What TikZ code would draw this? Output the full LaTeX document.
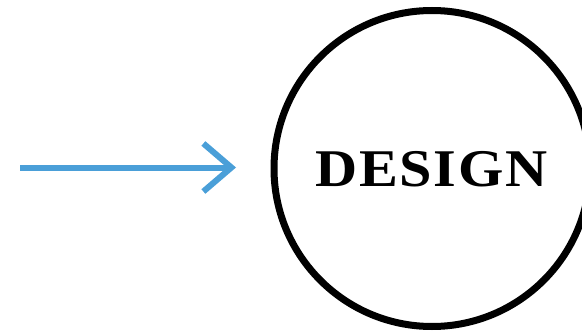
\documentclass[tikz,border=0pt]{standalone}
\usepackage{fontspec}
\setmainfont{Liberation Serif}
\newfontfamily\titlefont[LetterSpace=3]{Liberation Serif}
\usetikzlibrary{arrows.meta}
\definecolor{flowblue}{HTML}{4A9FD8}
\tikzset{
  flow/.style={draw=flowblue, line width=6pt, -{Straight Barb[length=28pt, width=48pt, line width=6pt]}},
  stage/.style={circle, draw=black, line width=7pt, minimum size=316pt, inner sep=0pt},
  label/.style={font=\titlefont\bfseries\fontsize{53}{53}\selectfont, inner sep=0pt, anchor=base, xscale=1.1}
}
\begin{document}
\begin{tikzpicture}[x=1pt, y=-1pt]
  \useasboundingbox (0,0) rectangle (582,332);
  \node[stage] (design) at (432,168.5) {};
  \node[label] (title) at (431.5,186) {DESIGN};
  \coordinate (start) at (20,167.5);
  \coordinate (tip) at (236,167.5);
  \draw[flow] (start) -- (tip);
\end{tikzpicture}
\end{document}
